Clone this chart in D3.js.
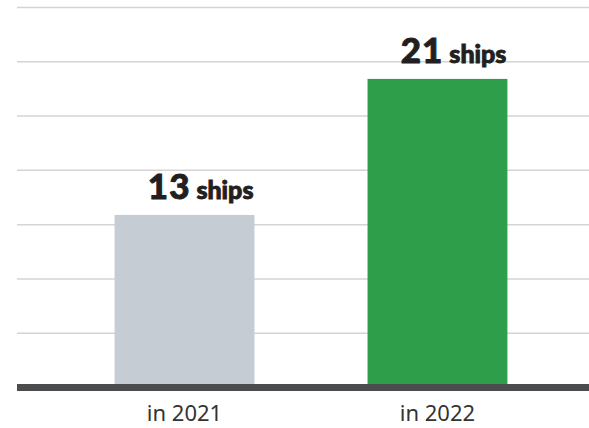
<!DOCTYPE html>
<html lang="en">
<head>
    <meta charset="UTF-8">
    <title>Ships</title>
    <script src="https://cdnjs.cloudflare.com/ajax/libs/d3/7.8.0/d3.min.js"></script>
    <style>
        body { margin: 0; background: #fff; }
        .value-num { font-family: Lato, "Noto Sans", sans-serif; font-weight: 900; }
        .axis-label { font-family: "Noto Sans", sans-serif; fill: #333; }
    </style>
</head>
<body>

    <svg id="viz" width="589" height="428"></svg>

    <script>
        // data
        const categories = ["in 2021", "in 2022"];
        const values = [13, 21];
        const unitLabel = "ships";
        const barColors = ["#c5ccd4", "#2e9e4a"];

        const width = 589;
        const height = 428;
        const left = 17;
        const baseY = 387.5;
        const topY = 7.5;

        let svg = d3.select('#viz');

        // the picture is not drawn from zero, so the domain starts above it
        let y = d3.scaleLinear()
            .domain([2.85, 25.2])
            .range([baseY, topY]);

        let x = d3.scaleBand()
            .domain(categories)
            .range([64, 558])
            .paddingInner(0.447)
            .paddingOuter(0.2);

        // gridlines, evenly spaced
        let d0 = y.domain()[0], d1 = y.domain()[1];
        let gridVals = d3.range(1, 8).map(i => d0 + i * (d1 - d0) / 7);

        svg.selectAll('.grid')
            .data(gridVals)
            .enter().append('line')
            .attr('class', 'grid')
            .attr('x1', left)
            .attr('x2', width)
            .attr('y1', d => y(d))
            .attr('y2', d => y(d))
            .attr('stroke', '#d4d4d4')
            .attr('stroke-width', 1.5);

        svg.selectAll('.bar')
            .data(values)
            .enter().append('rect')
            .attr('class', 'bar')
            .attr('x', (d, i) => x(categories[i]))
            .attr('width', x.bandwidth())
            .attr('y', d => y(d))
            .attr('height', d => y(d0) - y(d))
            .attr('fill', (d, i) => barColors[i]);

        // baseline
        svg.append('line')
            .attr('x1', left)
            .attr('x2', width)
            .attr('y1', y(d0))
            .attr('y2', y(d0))
            .attr('stroke', '#4b4c4e')
            .attr('stroke-width', 7);

        // value labels, right aligned to bar
        let labels = svg.selectAll('.value')
            .data(values)
            .enter().append('text')
            .attr('class', 'value-num')
            .attr('x', (d, i) => x(categories[i]) + x.bandwidth() - 1)
            .attr('y', d => y(d) - 16)
            .attr('text-anchor', 'end')
            .attr('fill', '#231f20')
            .attr('stroke', '#231f20')
            .attr('stroke-width', 0.9);
        labels.append('tspan')
            .attr('font-size', 35)
            .attr('letter-spacing', 1)
            .text(d => d);
        labels.append('tspan')
            .attr('font-size', 25)
            .text(' ' + unitLabel);

        svg.selectAll('.axis-label')
            .data(categories)
            .enter().append('text')
            .attr('class', 'axis-label')
            .attr('x', d => x(d) + x.bandwidth() / 2)
            .attr('y', 421)
            .attr('text-anchor', 'middle')
            .attr('font-size', 22)
            .text(d => d);
    </script>
</body>
</html>
